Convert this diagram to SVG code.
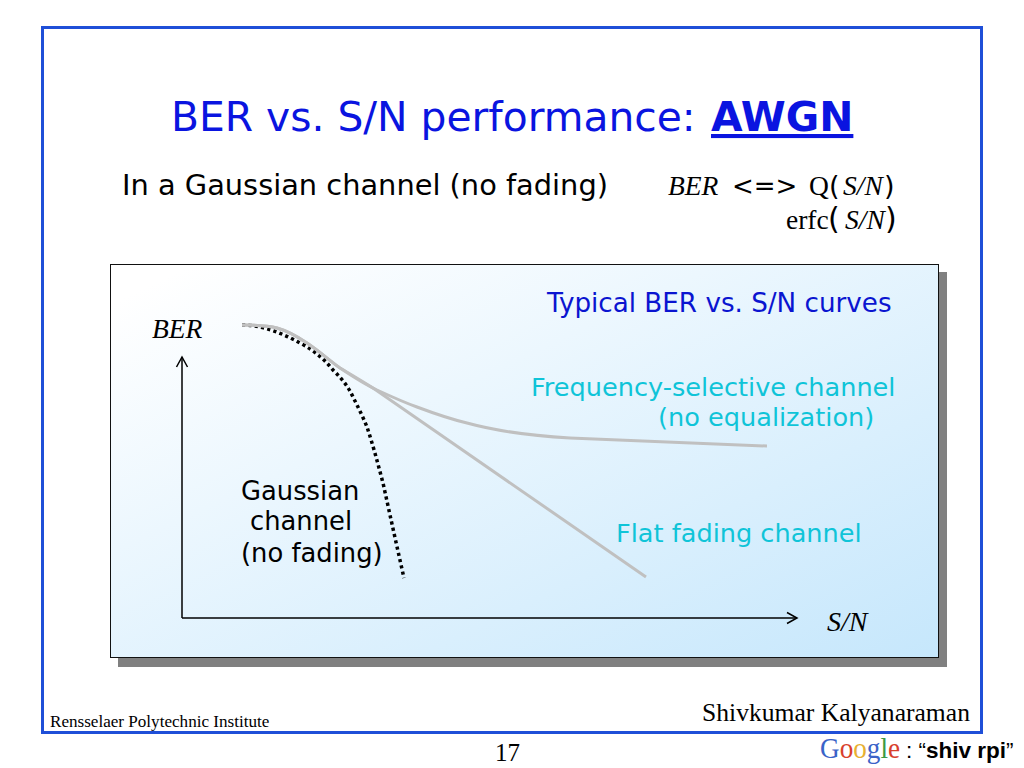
<svg xmlns="http://www.w3.org/2000/svg" width="1024" height="768" viewBox="0 0 1024 768">
<style>
.v{font-family:"DejaVu Sans",sans-serif}
.t{font-family:"Liberation Serif",serif}
.i{font-style:italic}
.curve{fill:none;stroke:#c0c0c0;stroke-width:3}
.ax{fill:none;stroke:#000;stroke-width:1.5}
.cy{fill:#0fc4d8;font-size:25.600px}
</style>
<defs>
<linearGradient id="g" x1="0" y1="0" x2="1" y2="1">
<stop offset="0.05" stop-color="#ffffff"/>
<stop offset="1" stop-color="#c6e7fc"/>
</linearGradient>
<marker id="a" markerWidth="14" markerHeight="14" refX="11" refY="6" orient="auto" markerUnits="userSpaceOnUse" viewBox="0 0 14 12">
<path d="M1 0.5L11 6L1 11.5" fill="none" stroke="#000" stroke-width="1.5"/>
</marker>
</defs>
<rect width="1024" height="768" fill="#fff"/>
<rect id="frame" x="42.500" y="27.500" width="939" height="705" fill="#fff" stroke="#1f4fd8" stroke-width="3"/>
<text class="v" x="171" y="131" font-size="40.800" fill="#0a14e0">BER vs. S/N performance: <tspan x="711" font-weight="bold" text-decoration="underline">AWGN</tspan></text>
<text class="v" x="122" y="195" font-size="28.850" fill="#000">In a Gaussian channel (no fading)</text>
<text class="t i" x="668" y="195" font-size="27.500">BER</text>
<text class="v" x="732" y="195" font-size="26">&lt;=&gt;</text>
<text class="t" x="809" y="195" font-size="27.500">Q</text>
<text class="v" x="829" y="195" font-size="27">(</text>
<text class="t i" x="843" y="195" font-size="27.500">S/N</text>
<text class="v" x="884" y="195" font-size="27">)</text>
<text class="t" x="786" y="229" font-size="27.500">erfc</text>
<text class="v" x="828" y="229" font-size="30">(</text>
<text class="t i" x="845" y="229" font-size="27.500">S/N</text>
<text class="v" x="885" y="229" font-size="30">)</text>
<rect x="118" y="272" width="829" height="395" fill="#808080"/>
<rect id="panel" x="110.500" y="264.500" width="828" height="393" fill="url(#g)" stroke="#111" stroke-width="1"/>
<g id="connectors">
<path class="ax" d="M182 618V357" marker-end="url(#a)"/>
<path class="ax" d="M182 618H797" marker-end="url(#a)"/>
<path d="M242 325C262 325 282 333 300 343C315 351 325 360 333 370C342 379 348 386 353 397C358 407 363 417 367 427C373 445 378 464 383 483C390 515 397 547 404 578" fill="none" stroke="#000" stroke-width="3.500" stroke-dasharray="3.200 3.200"/>
<path class="curve" d="M242 325C255 325 266 325 277 328C288 331 298 337 307 343C319 351 329 360 340 368C352 376 364 384 377 390C390 396 403 402 417 407C433 413 450 419 467 423C500 432 535 436 570 438C640 441 710 444 767 446"/>
<path class="curve" d="M242 325C255 325 266 325 277 328C288 331 298 337 307 343C319 351 329 360 340 368C350 374 362 381 373 388L646 577"/>
</g>
<g id="label-ber"><text class="t i" x="152" y="338" font-size="27.500">BER</text></g>
<g id="label-sn"><text class="t i" x="827" y="631" font-size="28">S/N</text></g>
<g id="label-gaussian" class="v" font-size="25.800">
<text x="241" y="500">Gaussian</text>
<text x="250" y="530">channel</text>
<text x="241" y="562">(no fading)</text>
</g>
<g id="label-typical"><text class="v" x="547" y="312" font-size="26.200" fill="#0a14d0">Typical BER vs. S/N curves</text></g>
<g id="label-freq" class="v cy">
<text x="531" y="396">Frequency-selective channel</text>
<text x="658" y="426">(no equalization)</text>
</g>
<g id="label-flat"><text class="v cy" x="616" y="542">Flat fading channel</text></g>
<text class="t" x="50" y="727" font-size="17.100">Rensselaer Polytechnic Institute</text>
<text class="t" x="702" y="721" font-size="25.600">Shivkumar Kalyanaraman</text>
<text class="t" x="495" y="761" font-size="25">17</text>
<text class="t" x="820" y="758" font-size="29" textLength="80" lengthAdjust="spacingAndGlyphs"><tspan fill="#3a63c8">G</tspan><tspan fill="#d8402c">o</tspan><tspan fill="#e8b030">o</tspan><tspan fill="#3a63c8">g</tspan><tspan fill="#3c9a44">l</tspan><tspan fill="#d8402c">e</tspan></text>
<text font-family="Liberation Sans,sans-serif" x="906" y="758" font-size="22.500">: “<tspan font-weight="bold">shiv rpi</tspan>”</text>
</svg>
